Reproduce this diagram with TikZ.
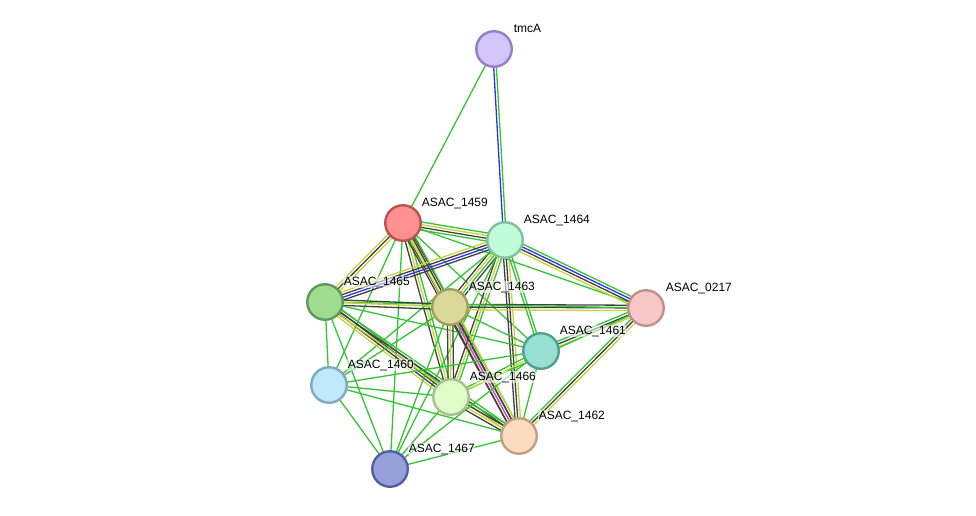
\documentclass[tikz,border=0pt]{standalone}
\usepackage{fontspec}
\setmainfont{Liberation Sans}
\usetikzlibrary{calc}
\pgfdeclarelayer{background}
\pgfsetlayers{background,main}
\definecolor{eG}{HTML}{33C433}
\definecolor{eK}{HTML}{404040}
\definecolor{eY}{HTML}{C4D43A}
\definecolor{eB}{HTML}{3030F0}
\definecolor{eM}{HTML}{E040E0}
\tikzset{
  prot/.style={circle, draw, line width=2.4pt, minimum size=35.5pt, inner sep=0pt},
  lab/.style={anchor=base west, font=\fontsize{12}{12}\selectfont, inner sep=0.6pt,
              fill=white, fill opacity=0.55, text opacity=1},
  edgeln/.style={line width=1.3pt}
}
\newcommand\medge[4]{%
  \foreach \cc [count=\ii] in {#4}{%
    \pgfmathsetmacro\off{(\ii-1-(#1-1)/2)*2.7}%
    \draw[edgeln, color=\cc] ($(#2)!\off pt!90:(#3)$) -- ($(#3)!\off pt!-90:(#2)$);
  }}
\begin{document}
\begin{tikzpicture}[x=1pt,y=-1pt]
\useasboundingbox (0,0) rectangle (976,515);
% nodes
\node[prot, fill={rgb,255:red,212;green,196;blue,252}, draw={rgb,255:red,150;green,125;blue,200}] (tmcA) at (494,49) {};
\node[prot, fill={rgb,255:red,255;green,144;blue,144}, draw={rgb,255:red,190;green,80;blue,80}] (n1459) at (403,223) {};
\node[prot, fill={rgb,255:red,192;green,252;blue,216}, draw={rgb,255:red,128;green,192;blue,160}] (n1464) at (505,240) {};
\node[prot, fill={rgb,255:red,160;green,220;blue,144}, draw={rgb,255:red,96;green,150;blue,96}] (n1465) at (325,302) {};
\node[prot, fill={rgb,255:red,220;green,216;blue,152}, draw={rgb,255:red,160;green,160;blue,96}] (n1463) at (450,307) {};
\node[prot, fill={rgb,255:red,248;green,200;blue,200}, draw={rgb,255:red,192;green,144;blue,144}] (n0217) at (646,308) {};
\node[prot, fill={rgb,255:red,152;green,224;blue,212}, draw={rgb,255:red,80;green,160;blue,144}] (n1461) at (541,351) {};
\node[prot, fill={rgb,255:red,192;green,232;blue,252}, draw={rgb,255:red,128;green,168;blue,192}] (n1460) at (329,385) {};
\node[prot, fill={rgb,255:red,224;green,252;blue,200}, draw={rgb,255:red,168;green,192;blue,144}] (n1466) at (451,397) {};
\node[prot, fill={rgb,255:red,252;green,220;blue,192}, draw={rgb,255:red,192;green,160;blue,128}] (n1462) at (519,436) {};
\node[prot, fill={rgb,255:red,152;green,160;blue,220}, draw={rgb,255:red,80;green,96;blue,160}] (n1467) at (390,469) {};
% edges
\begin{pgfonlayer}{background}
\medge{1}{tmcA}{n1459}{eG}
\medge{2}{tmcA}{n1464}{eB,eG}
\medge{4}{n1459}{n1464}{eG,eK,eY,eG}
\medge{3}{n1459}{n1465}{eY,eK,eY}
\medge{3}{n1459}{n1463}{eK,eY,eK}
\medge{3}{n1459}{n1466}{eK,eY,eG}
\medge{4}{n1459}{n1462}{eK,eY,eK,eG}
\medge{1}{n1459}{n0217}{eG}
\medge{1}{n1459}{n1461}{eG}
\medge{1}{n1459}{n1460}{eG}
\medge{1}{n1459}{n1467}{eG}
\medge{4}{n1464}{n0217}{eY,eK,eB,eG}
\medge{4}{n1464}{n1465}{eY,eK,eB,eK}
\medge{4}{n1464}{n1463}{eK,eY,eG,eK}
\medge{3}{n1464}{n1466}{eK,eY,eG}
\medge{3}{n1464}{n1462}{eK,eK,eY}
\medge{2}{n1464}{n1461}{eG,eG}
\medge{1}{n1464}{n1460}{eG}
\medge{1}{n1464}{n1467}{eG}
\medge{3}{n1463}{n0217}{eY,eK,eK}
\medge{3}{n1461}{n0217}{eY,eK,eG}
\medge{3}{n1462}{n0217}{eY,eK,eG}
\medge{1}{n1466}{n0217}{eG}
\medge{1}{n1465}{n0217}{eG}
\medge{3}{n1465}{n1463}{eK,eY,eK}
\medge{4}{n1465}{n1466}{eY,eK,eK,eG}
\medge{3}{n1465}{n1462}{eY,eK,eG}
\medge{1}{n1465}{n1461}{eG}
\medge{1}{n1465}{n1460}{eG}
\medge{1}{n1465}{n1467}{eG}
\medge{3}{n1463}{n1466}{eK,eY,eK}
\medge{4}{n1463}{n1462}{eK,eM,eK,eY}
\medge{1}{n1463}{n1461}{eG}
\medge{1}{n1463}{n1460}{eG}
\medge{1}{n1463}{n1467}{eG}
\medge{4}{n1466}{n1462}{eK,eY,eK,eG}
\medge{2}{n1461}{n1466}{eG,eY}
\medge{1}{n1461}{n1462}{eG}
\medge{1}{n1461}{n1460}{eG}
\medge{1}{n1461}{n1467}{eG}
\medge{1}{n1460}{n1466}{eG}
\medge{1}{n1460}{n1462}{eG}
\medge{1}{n1460}{n1467}{eG}
\medge{1}{n1466}{n1467}{eG}
\medge{1}{n1462}{n1467}{eG}
\end{pgfonlayer}
% labels
\node[lab] (ltmcA) at ([shift={(19,-17)}]tmcA.center) {tmcA};
\node[lab] (l1459) at ([shift={(18,-17)}]n1459.center) {ASAC\_1459};
\node[lab] (l1464) at ([shift={(18,-17)}]n1464.center) {ASAC\_1464};
\node[lab] (l1465) at ([shift={(18,-17)}]n1465.center) {ASAC\_1465};
\node[lab] (l1463) at ([shift={(18,-17)}]n1463.center) {ASAC\_1463};
\node[lab] (l0217) at ([shift={(19,-17)}]n0217.center) {ASAC\_0217};
\node[lab] (l1461) at ([shift={(18,-17)}]n1461.center) {ASAC\_1461};
\node[lab] (l1460) at ([shift={(18,-17)}]n1460.center) {ASAC\_1460};
\node[lab] (l1466) at ([shift={(18,-17)}]n1466.center) {ASAC\_1466};
\node[lab] (l1462) at ([shift={(19,-17)}]n1462.center) {ASAC\_1462};
\node[lab] (l1467) at ([shift={(18,-17)}]n1467.center) {ASAC\_1467};
\end{tikzpicture}
\end{document}
